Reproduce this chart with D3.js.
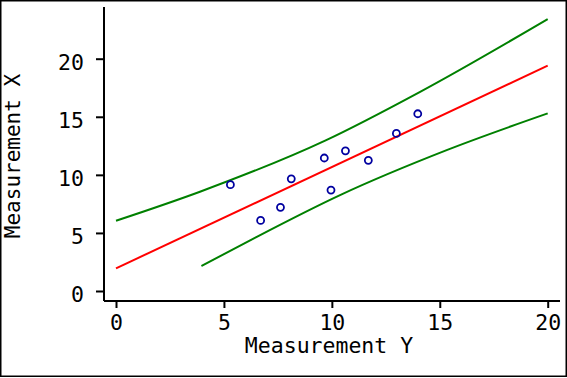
<!DOCTYPE html>
<html>
<head>
<meta charset="utf-8">
<script src="https://cdn.jsdelivr.net/npm/d3@7"></script>
<style>
  body { margin: 0; background: #fff; }
  svg { display: block; }
  text { font-family: "DejaVu Sans Mono", monospace; fill: #000; }
</style>
</head>
<body>
<svg id="chart" width="567" height="378"></svg>
<script>
// scatter points (Measurement Y, Measurement X)
const pointX = [5.30, 6.70, 7.62, 8.12, 9.65, 9.96, 10.63, 11.69, 12.99, 13.98];
const pointY = [9.15, 6.08, 7.20, 9.66, 11.45, 8.69, 12.07, 11.25, 13.57, 15.26];

// fitted line
const fitX = [0, 20];
const fitY = [1.95, 19.4];

// confidence band
const upperX = [0, 3.89, 9.69, 14.09, 20];
const upperY = [6.05, 8.55, 12.95, 17.15, 23.41];
const lowerX = [3.96, 6.39, 10.38, 15.32, 20];
const lowerY = [2.15, 4.54, 8.26, 12.13, 15.29];

const xTicks = [0, 5, 10, 15, 20];
const yTicks = [0, 5, 10, 15, 20];

const svg = d3.select("#chart");

const x = d3.scaleLinear().domain([0, 20]).range([116, 547.7]);
const y = d3.scaleLinear().domain([0, 20]).range([291, 58.7]);

// outer frame
svg.append("rect")
    .attr("x", 0.75).attr("y", 0.75)
    .attr("width", 565.5).attr("height", 375.5)
    .attr("fill", "none").attr("stroke", "#000").attr("stroke-width", 1.5);

// axes
const xAxis = svg.append("g")
    .attr("transform", "translate(0,301)")
    .call(d3.axisBottom(x).tickValues(xTicks).tickSize(7).tickPadding(7).tickFormat(d3.format("d")));
xAxis.select(".domain").attr("d", "M104,0H560");

const yAxis = svg.append("g")
    .attr("transform", "translate(104,0)")
    .call(d3.axisLeft(y).tickValues(yTicks).tickSize(8).tickPadding(12).tickFormat(d3.format("d")));
yAxis.select(".domain").attr("d", "M0,7V301");

svg.selectAll(".domain, .tick line").attr("stroke", "#000").attr("stroke-width", 2);
svg.selectAll(".tick text")
    .attr("font-family", "DejaVu Sans Mono")
    .attr("font-size", 21.5)
    .attr("fill", "#000");
yAxis.selectAll(".tick text").attr("dy", "0.5em");

// axis titles
svg.append("text")
    .attr("x", 329).attr("y", 353)
    .attr("text-anchor", "middle")
    .attr("font-size", 21.5)
    .text("Measurement Y");

svg.append("text")
    .attr("transform", "translate(19.5,156) rotate(-90)")
    .attr("text-anchor", "middle")
    .attr("font-size", 21)
    .text("Measurement X");

// lines
const line = d3.line().x(d => x(d[0])).y(d => y(d[1])).curve(d3.curveMonotoneX);

const bands = [
    {xs: upperX, ys: upperY, color: "#008000"},
    {xs: lowerX, ys: lowerY, color: "#008000"},
    {xs: fitX, ys: fitY, color: "#ff0000"}
];

svg.append("g")
    .selectAll("path")
    .data(bands)
    .join("path")
    .attr("d", d => line(d.xs.map((v, i) => [v, d.ys[i]])))
    .attr("fill", "none")
    .attr("stroke", d => d.color)
    .attr("stroke-width", 2);

// points
svg.append("g")
    .selectAll("circle")
    .data(pointX.map((v, i) => [v, pointY[i]]))
    .join("circle")
    .attr("cx", d => x(d[0]))
    .attr("cy", d => y(d[1]))
    .attr("r", 3.5)
    .attr("fill", "none")
    .attr("stroke", "#0000a0")
    .attr("stroke-width", 1.8);
</script>
</body>
</html>
